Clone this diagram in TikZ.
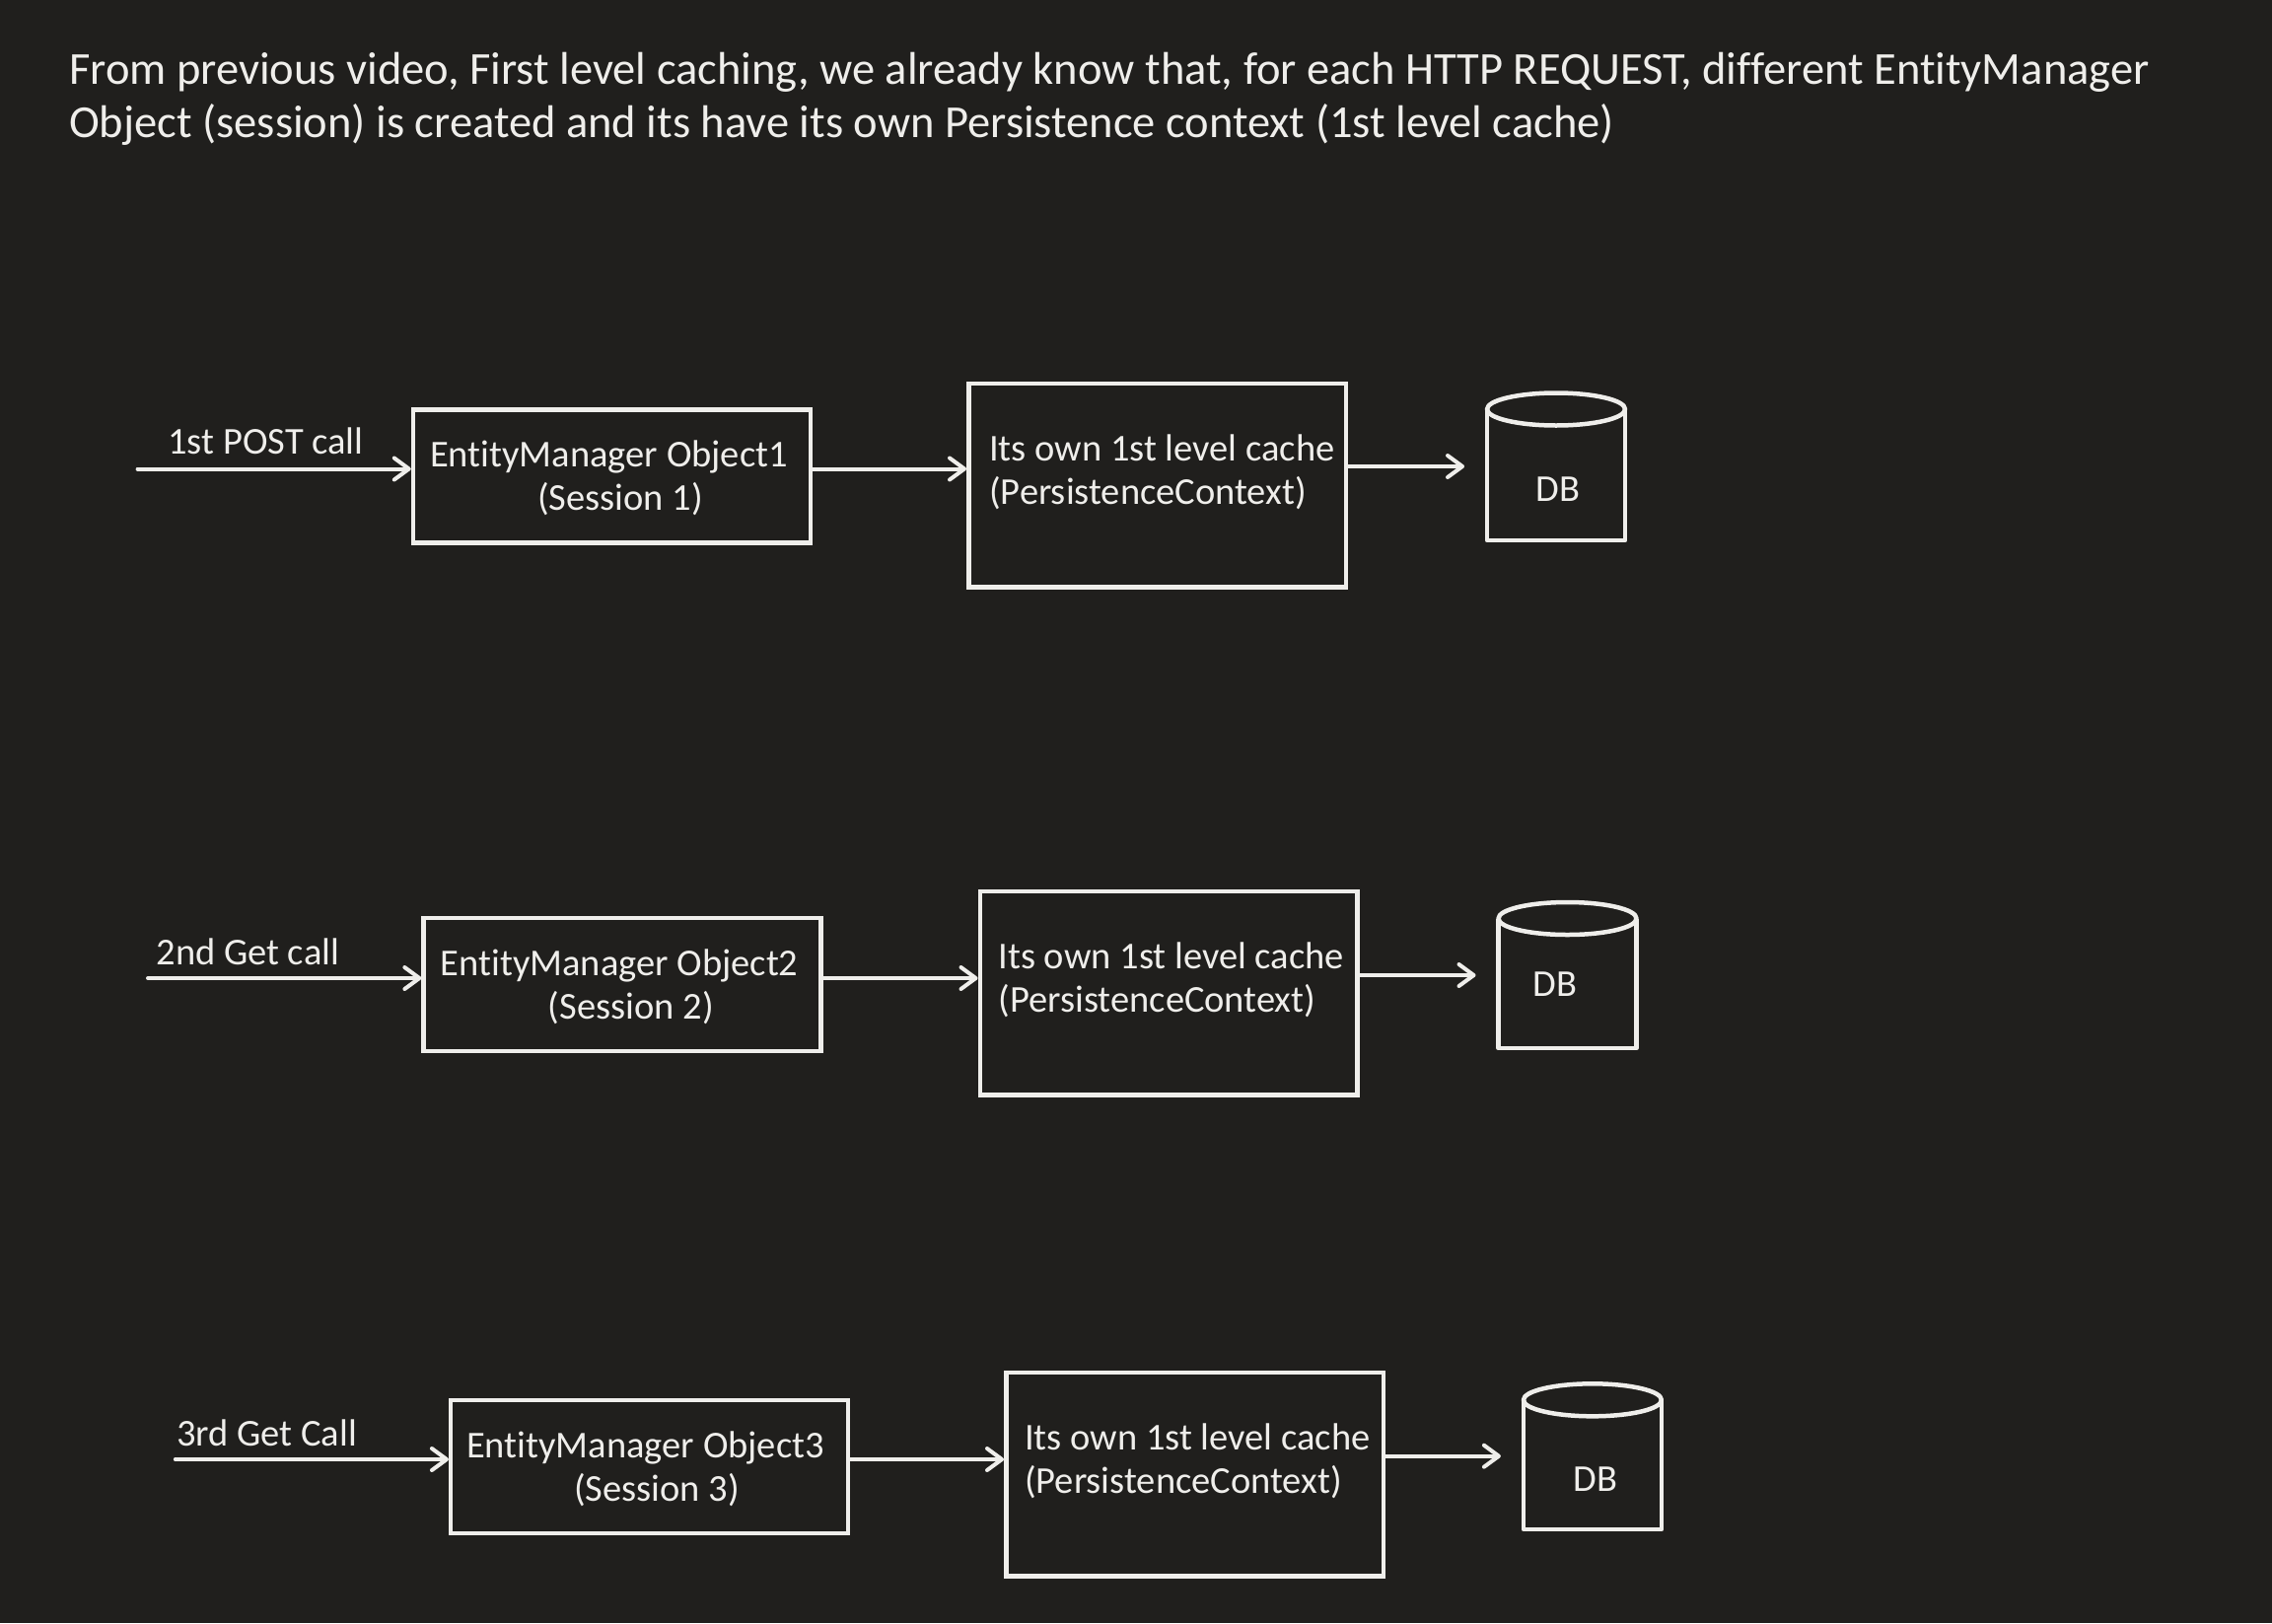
\documentclass[tikz,border=0pt]{standalone}
\usepackage{fontspec}
\setmainfont{Carlito}[Ligatures=NoCommon]
\usetikzlibrary{arrows.meta}
\definecolor{bg}{RGB}{32,31,29}
\definecolor{fg}{RGB}{239,238,235}
\begin{document}
\begin{tikzpicture}[x=1pt,y=-1pt,
  box/.style={draw=fg, line width=4.5pt, inner sep=0pt, minimum width=403pt, minimum height=135pt},
  cachebox/.style={draw=fg, line width=4.5pt, inner sep=0pt, minimum width=382.5pt, minimum height=206.5pt},
  txt/.style={text=fg, inner sep=0pt, font=\fontsize{38.5}{44}\selectfont},
  head/.style={text=fg, inner sep=0pt, anchor=base west, font=\fontsize{46.5}{54}\selectfont},
  arr/.style={draw=fg, line width=4pt, line cap=round, -{Straight Barb[length=15pt,width=22pt,round]}},
  dbbody/.style={inner sep=0pt, outer sep=0pt, minimum width=140pt},
  cyl/.style={draw=fg, line width=4.5pt, line join=round}
]
\fill[bg] (0,0) rectangle (2304,1646);
\useasboundingbox (0,0) rectangle (2304,1646);

\node[head] (h1) at (70,85) {From previous video, First level caching, we already know that, for each HTTP REQUEST, different EntityManager};
\node[head] (h2) at (70,139) {Object (session) is created and its have its own Persistence context (1st level cache)};

% Row 1
\coordinate (s1) at (139.6,475.5);
\coordinate (r1) at (0,475.5);
\coordinate (q1) at (0,473);
\node[box] (em1) at (620.5,482.75) {};
\node[txt, align=left, anchor=west] (em1t) at (436,485) {EntityManager Object1\\\hspace*{109pt}(Session 1)};
\node[cachebox] (c1) at (1173.5,492) {};
\node[txt, align=left, anchor=west] (c1t) at (1003,478.7) {Its own 1st level cache\\(PersistenceContext)};
\node[dbbody, minimum height=133pt] (d1) at (1578,481.5) {};
\draw[cyl] (d1.north west) -- (d1.south west) -- (d1.south east) -- (d1.north east);
\draw[cyl] (d1.north) ellipse [x radius=70pt, y radius=16.5pt];
\node[txt, anchor=base] (d1t) at (1580,508) {DB};
\node[txt, anchor=base] (l1) at (269.5,460.7) {1st POST call};
\draw[arr] (s1) -- (em1.west |- s1);
\draw[arr] (em1.east |- r1) -- (c1.west |- r1);
\draw[arr, shorten >=23pt] (c1.east |- q1) -- (d1.west |- q1);

% Row 2
\coordinate (s2) at (150,992);
\coordinate (r2) at (0,992);
\coordinate (q2) at (0,989);
\node[box] (em2) at (631.1,998.5) {};
\node[txt, align=left, anchor=west] (em2t) at (446.7,1000.7) {EntityManager Object2\\\hspace*{109pt}(Session 2)};
\node[cachebox] (c2) at (1185,1007.3) {};
\node[txt, align=left, anchor=west] (c2t) at (1012.4,994) {Its own 1st level cache\\(PersistenceContext)};
\node[dbbody, minimum height=131.5pt] (d2) at (1589.5,997.25) {};
\draw[cyl] (d2.north west) -- (d2.south west) -- (d2.south east) -- (d2.north east);
\draw[cyl] (d2.north) ellipse [x radius=70pt, y radius=16.5pt];
\node[txt, anchor=base] (d2t) at (1577,1010.7) {DB};
\node[txt, anchor=base] (l2) at (251.3,978) {2nd Get call};
\draw[arr] (s2) -- (em2.west |- s2);
\draw[arr] (em2.east |- r2) -- (c2.west |- r2);
\draw[arr, shorten >=23pt] (c2.east |- q2) -- (d2.west |- q2);

% Row 3
\coordinate (s3) at (177.8,1480);
\coordinate (r3) at (0,1480);
\coordinate (q3) at (0,1476.7);
\node[box] (em3) at (658.7,1487.3) {};
\node[txt, align=left, anchor=west] (em3t) at (473,1489.5) {EntityManager Object3\\\hspace*{109pt}(Session 3)};
\node[cachebox] (c3) at (1211.5,1495) {};
\node[txt, align=left, anchor=west] (c3t) at (1038.9,1481.7) {Its own 1st level cache\\(PersistenceContext)};
\node[dbbody, minimum height=131.2pt] (d3) at (1614.9,1485.4) {};
\draw[cyl] (d3.north west) -- (d3.south west) -- (d3.south east) -- (d3.north east);
\draw[cyl] (d3.north) ellipse [x radius=70pt, y radius=16.5pt];
\node[txt, anchor=base] (d3t) at (1617.8,1512) {DB};
\node[txt, anchor=base] (l3) at (270.5,1466) {3rd Get Call};
\draw[arr] (s3) -- (em3.west |- s3);
\draw[arr] (em3.east |- r3) -- (c3.west |- r3);
\draw[arr, shorten >=23pt] (c3.east |- q3) -- (d3.west |- q3);
\end{tikzpicture}
\end{document}
